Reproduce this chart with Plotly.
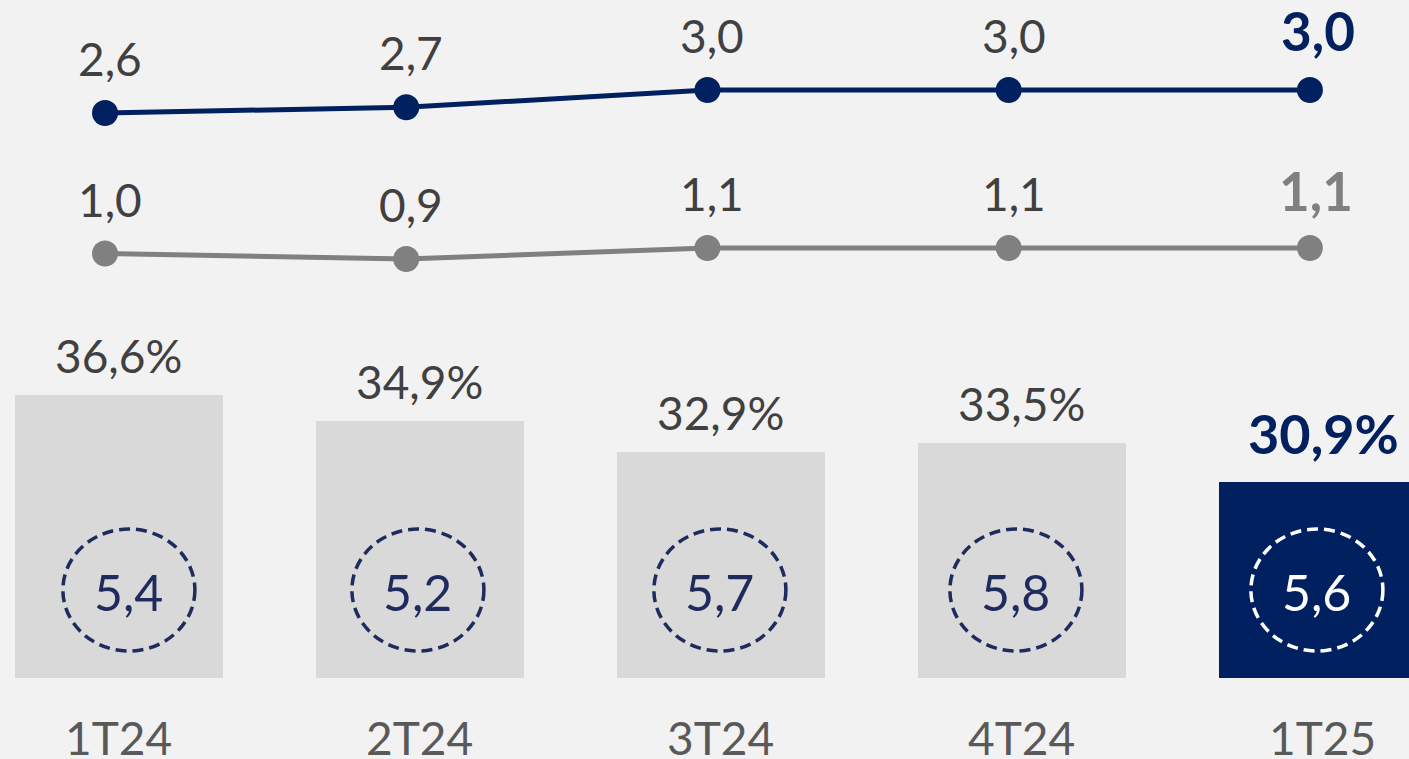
import plotly.graph_objects as go

# Quarterly data
quarters = ["1T24", "2T24", "3T24", "4T24", "1T25"]
ratio_pct = [36.6, 34.9, 32.9, 33.5, 30.9]      # bar series (%)
badge_vals = [5.4, 5.2, 5.7, 5.8, 5.6]          # values inside the dashed circles
line_top = [2.6, 2.7, 3.0, 3.0, 3.0]            # navy line
line_bottom = [1.0, 0.9, 1.1, 1.1, 1.1]         # grey line

# small horizontal nudges (px) for the dashed badges
badge_dx = [10, -2, -1, -6, -6]

NAVY = "#002060"
GREY_LINE = "#808080"
BAR_GREY = "#d9d9d9"
BG = "#f2f2f2"
TXT = "#404040"
CAT_TXT = "#595959"
BADGE = "#1f2b5c"
FONT = "Lato"

W, H = 1409, 759


def fmt(v, pct=False):
    s = f"{v:.1f}".replace(".", ",")
    return s + ("%" if pct else "")


last = len(quarters) - 1
bar_colors = [BAR_GREY] * last + [NAVY]

fig = go.Figure()

fig.add_trace(go.Bar(
    x=quarters, y=ratio_pct, marker=dict(color=bar_colors, line=dict(width=0)),
    width=0.69, xaxis="x", yaxis="y", hoverinfo="skip",
))

fig.add_trace(go.Scatter(
    x=quarters, y=line_top, mode="lines+markers",
    line=dict(color=NAVY, width=5), marker=dict(color=NAVY, size=26),
    xaxis="x2", yaxis="y2", hoverinfo="skip",
))
fig.add_trace(go.Scatter(
    x=quarters, y=line_bottom, mode="lines+markers",
    line=dict(color=GREY_LINE, width=5), marker=dict(color=GREY_LINE, size=26),
    xaxis="x2", yaxis="y3", hoverinfo="skip",
))

annotations = []
shapes = []

for i, q in enumerate(quarters):
    is_last = i == last
    # percentage labels above the bars
    annotations.append(dict(
        x=q, y=ratio_pct[i], xref="x", yref="y", yanchor="bottom",
        text=f"<b>{fmt(ratio_pct[i], True)}</b>" if is_last else fmt(ratio_pct[i], True),
        showarrow=False, yshift=14 if is_last else 10, xshift=1 if is_last else 0,
        font=dict(family=FONT, size=54 if is_last else 46, color=NAVY if is_last else TXT),
    ))
    # line labels
    annotations.append(dict(
        x=q, y=line_top[i], xref="x2", yref="y2", yanchor="bottom",
        text=f"<b>{fmt(line_top[i])}</b>" if is_last else fmt(line_top[i]),
        showarrow=False, yshift=26 if is_last else 25, xshift=8 if is_last else 5,
        font=dict(family=FONT, size=53 if is_last else 46, color=NAVY if is_last else TXT),
    ))
    annotations.append(dict(
        x=q, y=line_bottom[i], xref="x2", yref="y3", yanchor="bottom",
        text=f"<b>{fmt(line_bottom[i])}</b>" if is_last else fmt(line_bottom[i]),
        showarrow=False, yshift=24 if is_last else 25, xshift=6 if is_last else 5,
        font=dict(family=FONT, size=53 if is_last else 46, color=GREY_LINE if is_last else TXT),
    ))
    # dashed badge circle with value
    badge_col = "white" if is_last else BADGE
    shapes.append(dict(
        type="circle", xref="x", yref="paper", xsizemode="pixel", ysizemode="pixel",
        xanchor=i, yanchor=1 - 590 / H,
        x0=-66 + badge_dx[i], x1=66 + badge_dx[i], y0=-61, y1=61,
        line=dict(color=badge_col, width=3.5, dash="11px,6px"), layer="above",
    ))
    annotations.append(dict(
        x=q, y=1 - 592 / H, xref="x", yref="paper", yanchor="middle",
        xshift=badge_dx[i], text=fmt(badge_vals[i]), showarrow=False,
        font=dict(family=FONT, size=50, color=badge_col),
    ))
    # category labels
    annotations.append(dict(
        x=q, y=1 - 737 / H, xref="x", yref="paper", yanchor="middle",
        text=q, showarrow=False,
        font=dict(family=FONT, size=46, color=CAT_TXT),
    ))

fig.update_layout(
    width=W, height=H,
    margin=dict(l=0, r=0, t=0, b=0),
    paper_bgcolor=BG, plot_bgcolor=BG,
    showlegend=False, bargap=0,
    xaxis=dict(range=[-0.395, 4.286], visible=False, fixedrange=True),
    xaxis2=dict(range=[-0.3486, 4.329], overlaying="x", visible=False,
                categoryorder="array", categoryarray=quarters),
    yaxis=dict(domain=[81 / H, 1], range=[18.16, 62.33], visible=False),
    yaxis2=dict(range=[-7.226, 4.565], overlaying="y", anchor="x2", visible=False),
    yaxis3=dict(range=[-6.718, 5.609], overlaying="y", anchor="x2", visible=False),
    annotations=annotations,
    shapes=shapes,
)

fig.write_html("out.html")
